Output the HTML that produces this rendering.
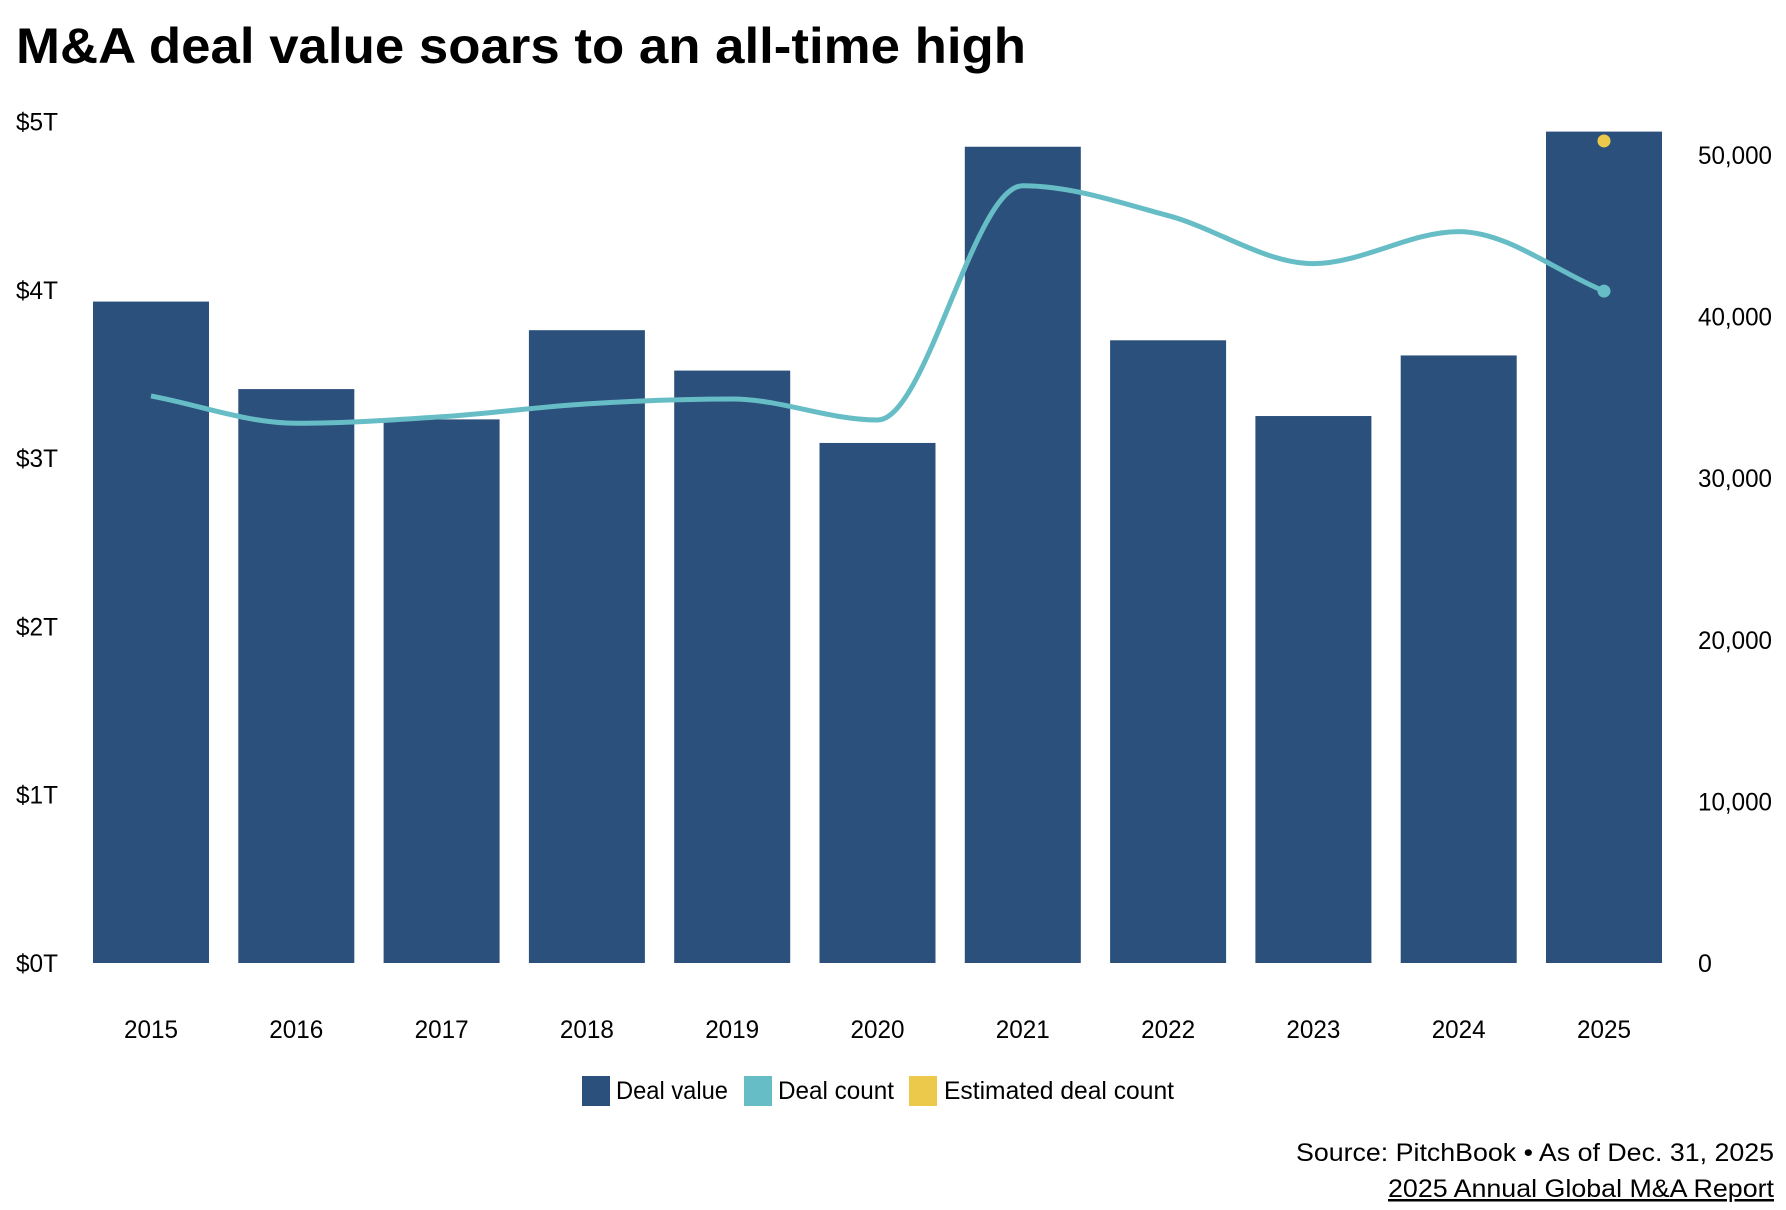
<!DOCTYPE html>
<html><head><meta charset="utf-8"><style>
html,body{margin:0;padding:0;background:#fff;}
svg{display:block;font-family:"Liberation Sans",sans-serif;}
</style></head><body>
<svg id="chart" width="1786" height="1210" viewBox="0 0 1786 1210">
<text x="16" y="63" font-size="50" font-weight="bold" fill="#000" textLength="1010" lengthAdjust="spacingAndGlyphs">M&amp;A deal value soars to an all-time high</text>
<g id="bars"></g>
<g id="line"></g>
<g id="yleft"></g>
<g id="yright"></g>
<g id="xaxis"></g>
<g>
<g><rect x="582" y="1076" width="28" height="30" fill="#2b507b"/><text x="616" y="1099" font-size="25" textLength="112" lengthAdjust="spacingAndGlyphs">Deal value</text></g>
<g><rect x="744" y="1076" width="28" height="30" fill="#67bdc6"/><text x="778" y="1099" font-size="25" textLength="116" lengthAdjust="spacingAndGlyphs">Deal count</text></g>
<g><rect x="909" y="1076" width="28" height="30" fill="#ecc94b"/><text x="944" y="1099" font-size="25" textLength="230" lengthAdjust="spacingAndGlyphs">Estimated deal count</text></g>
</g>
<text x="1774" y="1161" font-size="25" text-anchor="end" textLength="478" lengthAdjust="spacingAndGlyphs">Source: PitchBook • As of Dec. 31, 2025</text>
<text x="1774" y="1197" font-size="25" text-anchor="end" textLength="386" lengthAdjust="spacingAndGlyphs" text-decoration="underline">2025 Annual Global M&amp;A Report</text>
</svg>
<script>
const years = ["2015","2016","2017","2018","2019","2020","2021","2022","2023","2024","2025"];
const dealValue = [3.93,3.41,3.23,3.76,3.52,3.09,4.85,3.70,3.25,3.61,4.94];
const dealCount = [35090,33400,33800,34600,34900,33600,48100,46250,43280,45260,41580];
const estimatedCount = [null,null,null,null,null,null,null,null,null,null,50870];
const leftTicks = [0,1,2,3,4,5];
const leftTickLabels = ["$0T","$1T","$2T","$3T","$4T","$5T"];
const rightTicks = [0,10000,20000,30000,40000,50000];
const rightTickLabels = ["0","10,000","20,000","30,000","40,000","50,000"];

const NS="http://www.w3.org/2000/svg";
const base=963;
const yL=v=>base-v*168.3;
const yR=v=>base-v*0.01616;
const x=i=>151+i*145.3;
const bw=116;
function mk(tag,attrs,parent){const e=document.createElementNS(NS,tag);for(const k in attrs)e.setAttribute(k,attrs[k]);parent.appendChild(e);return e;}
const gb=document.getElementById('bars');
dealValue.forEach((v,i)=>{
  const r=mk('rect',{x:x(i)-bw/2,y:yL(v),width:bw,height:base-yL(v),fill:'#2b507b'},gb);
  
  
});
const pts=dealCount.map((v,i)=>[x(i),yR(v)]);
const n=pts.length,d=[],m=[];
for(let i=0;i<n-1;i++)d.push((pts[i+1][1]-pts[i][1])/(pts[i+1][0]-pts[i][0]));
for(let i=0;i<n;i++){
  if(i===0)m.push(d[0]);else if(i===n-1)m.push(d[n-2]);
  else m.push(d[i-1]*d[i]<=0?0:(d[i-1]+d[i])/2);
}
for(let i=0;i<n-1;i++){
  if(d[i]===0){m[i]=0;m[i+1]=0;continue;}
  const a=m[i]/d[i],b=m[i+1]/d[i],s=a*a+b*b;
  if(s>9){const t=3/Math.sqrt(s);m[i]=t*a*d[i];m[i+1]=t*b*d[i];}
}
let p='M'+pts[0][0]+','+pts[0][1];
for(let i=0;i<n-1;i++){
  const h=(pts[i+1][0]-pts[i][0])/3;
  p+=' C'+(pts[i][0]+h)+','+(pts[i][1]+m[i]*h)+' '+(pts[i+1][0]-h)+','+(pts[i+1][1]-m[i+1]*h)+' '+pts[i+1][0]+','+pts[i+1][1];
}
const gl=document.getElementById('line');
const path=mk('path',{d:p,fill:'none',stroke:'#67bdc6','stroke-width':5},gl);


const lastDot=mk('circle',{cx:pts[n-1][0],cy:pts[n-1][1],r:6.5,fill:'#67bdc6'},gl);


estimatedCount.forEach((v,i)=>{
  if(v==null)return;
  const c=mk('circle',{cx:x(i),cy:yR(v),r:6.5,fill:'#ecc94b'},gl);
  
  
});
const gyl=document.getElementById('yleft');
leftTicks.forEach((v,i)=>{
  const t=mk('text',{x:16,y:yL(v)+9,'font-size':25,textLength:42,lengthAdjust:'spacingAndGlyphs'},gyl);
  t.textContent=leftTickLabels[i];
  
  
});
const gyr=document.getElementById('yright');
rightTicks.forEach((v,i)=>{
  const lab=rightTickLabels[i];
  const t=mk('text',{x:1698,y:yR(v)+9,'font-size':25},gyr);
  if(lab.length>1){t.setAttribute('textLength',74);t.setAttribute('lengthAdjust','spacingAndGlyphs');}
  t.textContent=lab;
  
  
});
const gx=document.getElementById('xaxis');
years.forEach((yv,i)=>{
  const t=mk('text',{x:x(i),y:1038,'font-size':25,'text-anchor':'middle',textLength:54,lengthAdjust:'spacingAndGlyphs'},gx);
  t.textContent=yv;
  
  
});
</script>
</body></html>
